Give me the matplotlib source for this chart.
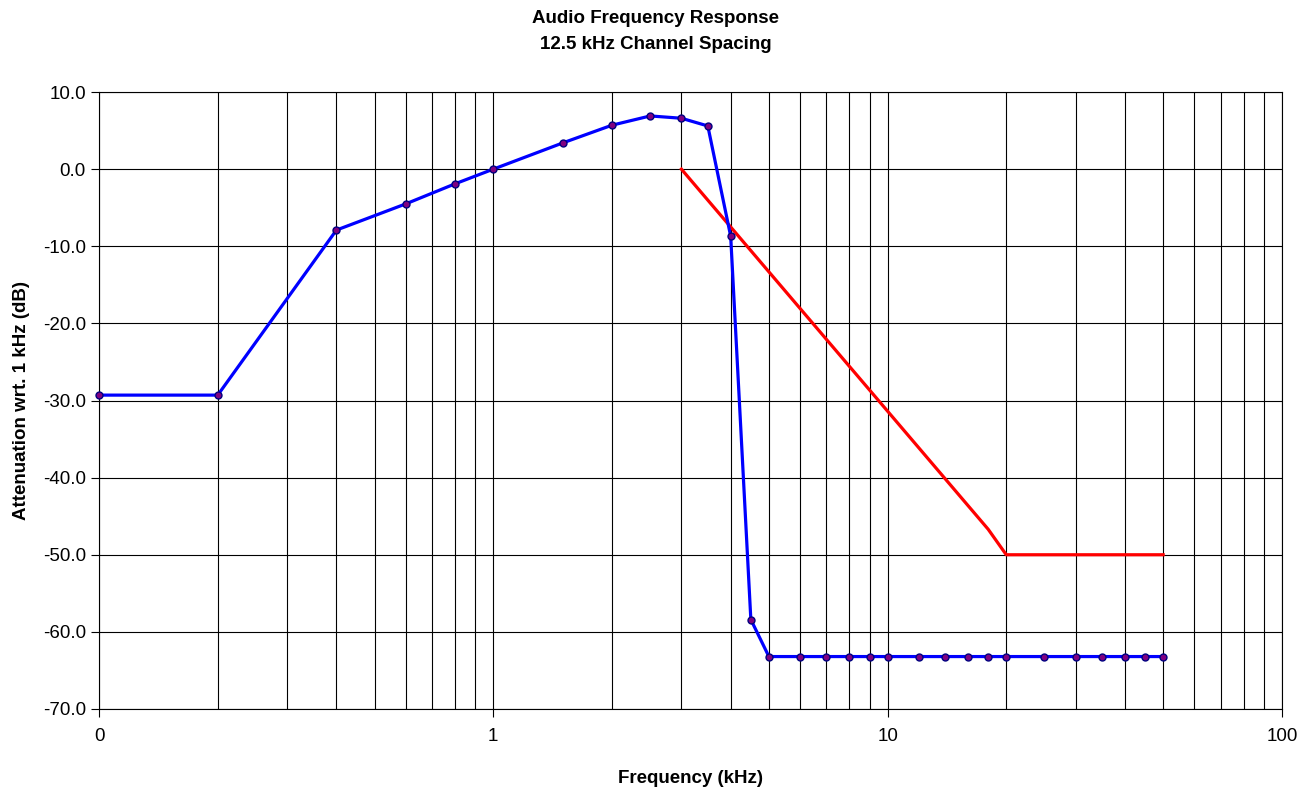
import matplotlib
matplotlib.use("Agg")
import matplotlib.pyplot as plt
from matplotlib.ticker import FixedLocator, FixedFormatter, LogLocator, NullFormatter

plt.rcParams['font.family'] = ['Liberation Sans', 'DejaVu Sans']

# measured response (kHz, dB)
freq = [0.1, 0.2, 0.4, 0.6, 0.8, 1.0, 1.5, 2.0, 2.5, 3.0, 3.5, 4.0, 4.5, 5.0,
        6, 7, 8, 9, 10, 12, 14, 16, 18, 20, 25, 30, 35, 40, 45, 50]
atten = [-29.3, -29.3, -7.9, -4.5, -1.9, 0.0, 3.4, 5.7, 6.9, 6.6, 5.6, -8.7, -58.4, -63.2,
         -63.2, -63.2, -63.2, -63.2, -63.2, -63.2, -63.2, -63.2, -63.2, -63.2, -63.2,
         -63.2, -63.2, -63.2, -63.2, -63.2]

# limit mask
mask_freq = [3, 18, 20, 50]
mask_db = [0.0, -46.7, -50.0, -50.0]

fig = plt.figure(figsize=(13.12, 7.92), dpi=100)
ax = fig.add_axes([0.0755, 0.1048, 0.9015, 0.779])

ax.plot(mask_freq, mask_db, color="#FF0000", lw=2.3, zorder=3)
ax.plot(freq, atten, color="#0000FF", lw=2.3, marker="o", markersize=5,
        markerfacecolor="#800080", markeredgecolor="#000080", markeredgewidth=1,
        zorder=4, clip_on=False)

ax.set_xscale("log")
ax.set_xlim(0.1, 100)
ax.set_ylim(-70, 10)

ax.xaxis.set_major_locator(FixedLocator([0.1, 1, 10, 100]))
ax.xaxis.set_major_formatter(FixedFormatter(["0", "1", "10", "100"]))
ax.xaxis.set_minor_locator(LogLocator(base=10, subs=range(2, 10)))
ax.xaxis.set_minor_formatter(NullFormatter())
ax.set_yticks(range(-70, 11, 10))
ax.set_yticklabels(["%.1f" % v for v in range(-70, 11, 10)])

ax.grid(True, which="both", axis="x", color="black", lw=0.8)
ax.grid(True, which="major", axis="y", color="black", lw=0.8)
ax.set_axisbelow(True)

ax.tick_params(axis="both", which="major", labelsize=13.5, length=6, width=0.8, direction="out")
ax.tick_params(axis="x", which="minor", length=0)
ax.tick_params(axis="x", which="major", pad=8)
for s in ax.spines.values():
    s.set_linewidth(0.8)

ax.set_xlabel("Frequency (kHz)", fontsize=13.5, fontweight="bold", labelpad=18)
ax.set_ylabel("Attenuation wrt. 1 kHz (dB)", fontsize=13.5, fontweight="bold", labelpad=9)
fig.text(0.5, 0.988, "Audio Frequency Response\n12.5 kHz Channel Spacing",
         ha="center", va="top", fontsize=13.5, fontweight="bold", linespacing=1.75)

fig.savefig("out.png", dpi=100)
